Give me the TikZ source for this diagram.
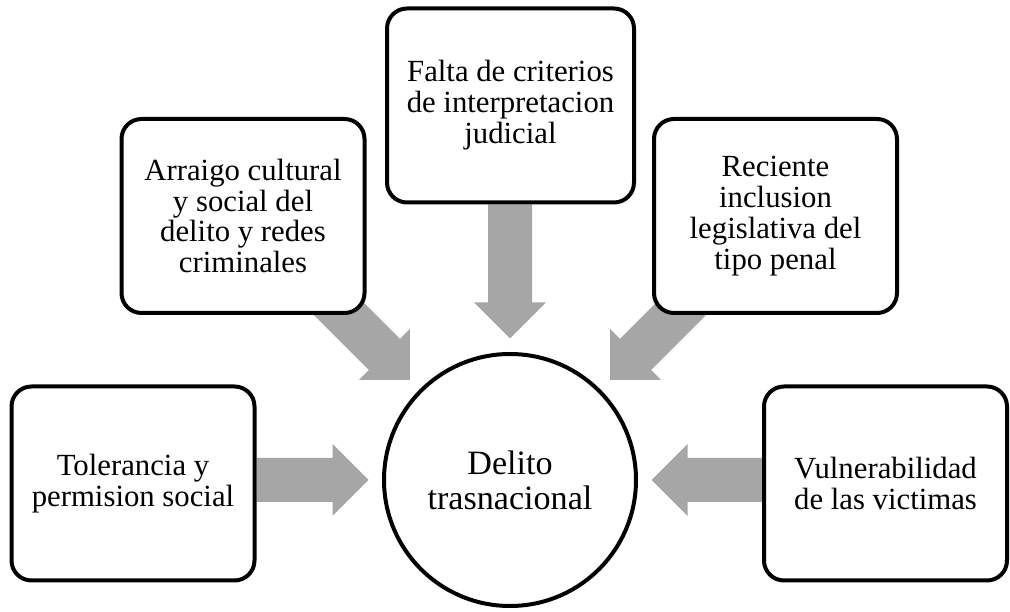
\documentclass[tikz,border=0pt]{standalone}
\usepackage{fontspec}
\setmainfont{Liberation Serif}
\usetikzlibrary{calc,backgrounds}
\definecolor{arrowgray}{RGB}{166,166,166}

\begin{document}
\begin{tikzpicture}
\tikzstyle{every node}=[align=center, inner sep=0pt]
\tikzstyle{box}=[draw, fill=white, line width=0.08cm, rounded corners=0.4cm, minimum width=4.86cm, minimum height=3.88cm, font=\fontsize{17.5}{17.6}\selectfont]
\tikzstyle{hub}=[draw, fill=white, circle, line width=0.08cm, minimum size=5.04cm, font=\fontsize{19.4}{19.9}\selectfont]
% block arrow: shaft 0.88, head 1.44 wide and 0.72 long, stops 0.27 short of the target
\tikzstyle{push}=[fill=arrowgray, to path={let \p1=($(\tikztotarget)-(\tikztostart)$), \n1={atan2(\y1,\x1)} in
  ([shift={(\n1+90:0.44)}]\tikztostart)
  -- ([shift={(\n1+180:0.99)},shift={(\n1+90:0.44)}]\tikztotarget)
  -- ([shift={(\n1+180:0.99)},shift={(\n1+90:0.72)}]\tikztotarget)
  -- ([shift={(\n1+180:0.27)}]\tikztotarget)
  -- ([shift={(\n1+180:0.99)},shift={(\n1-90:0.72)}]\tikztotarget)
  -- ([shift={(\n1+180:0.99)},shift={(\n1-90:0.44)}]\tikztotarget)
  -- ([shift={(\n1-90:0.44)}]\tikztostart) -- cycle}]
\useasboundingbox (0,0) rectangle (20.2,12.24);
\draw (10.2,2.64) node (del) [hub] {Delito\\ trasnacional};
\draw (2.66,2.57) node (tol) [box] {Tolerancia y\\ permision social};
\draw (17.71,2.57) node (vul) [box] {Vulnerabilidad\\ de las victimas};
\draw (4.86,7.92) node (arr) [box] {Arraigo cultural\\ y social del\\ delito y redes\\ criminales};
\draw (10.21,10.13) node (fal) [box, minimum width=4.94cm] {Falta de criterios\\ de interpretacion\\ judicial};
\draw (15.51,7.92) node (rec) [box] {Reciente\\ inclusion\\ legislativa del\\ tipo penal};
\coordinate (arrtail) at ([shift={(135:2.8)}]del.135);
\coordinate (rectail) at ([shift={(45:2.8)}]del.45);
\begin{pgfonlayer}{background}
\fill[push] (tol.east |- del.west) to (del.west);
\fill[push] (vul.west |- del.east) to (del.east);
\fill[push] (fal.south -| del.north) to (del.north);
\fill[push] (arrtail) to (del.135);
\fill[push] (rectail) to (del.45);
\end{pgfonlayer}
\end{tikzpicture}
\end{document}
